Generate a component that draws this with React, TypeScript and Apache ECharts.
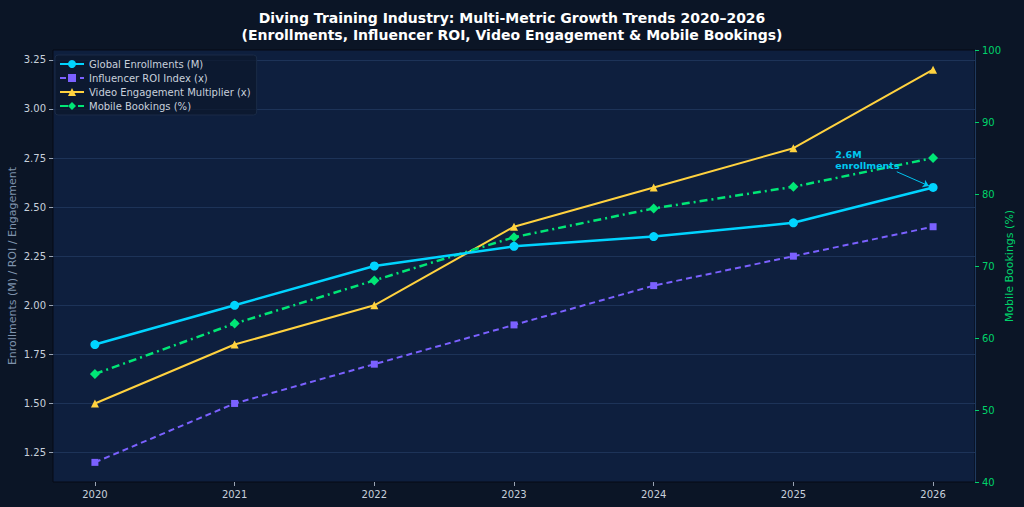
import React, { useEffect, useRef } from "react";
import * as echarts from "echarts";

const years = [2020, 2021, 2022, 2023, 2024, 2025, 2026];
const enrollments = [1.8, 2.0, 2.2, 2.3, 2.35, 2.42, 2.6];
const influencerRoi = [1.2, 1.5, 1.7, 1.9, 2.1, 2.25, 2.4];
const videoEngagement = [1.5, 1.8, 2.0, 2.4, 2.6, 2.8, 3.2];
const mobileBookings = [55, 62, 68, 74, 78, 81, 85];
const leftTicks = [1.25, 1.5, 1.75, 2.0, 2.25, 2.5, 2.75, 3.0, 3.25];

const pairs = (vals: number[]) => years.map((y, i) => [y, vals[i]]);

export default function App() {
  const ref = useRef<HTMLDivElement>(null);
  useEffect(() => {
    document.body.style.margin = "0";
    document.body.style.background = "#0b1526";
    const chart = echarts.init(ref.current!, null, { renderer: "svg" });
    const font = "DejaVu Sans";
    chart.setOption({
      animation: false,
      backgroundColor: "#0b1526",
      textStyle: { fontFamily: font },
      title: {
        text: "Diving Training Industry: Multi-Metric Growth Trends 2020–2026\n(Enrollments, Influencer ROI, Video Engagement & Mobile Bookings)",
        left: "center",
        top: 4,
        textStyle: { color: "#ffffff", fontSize: 14, fontWeight: "bold", lineHeight: 17, fontFamily: font },
      },
      legend: {
        orient: "vertical",
        left: 55,
        top: 55,
        itemGap: 4,
        itemWidth: 24,
        itemHeight: 10,
        padding: [4, 6, 4, 4],
        backgroundColor: "rgba(12,24,44,0.75)",
        borderColor: "#1a2b47",
        borderWidth: 1,
        borderRadius: 3,
        textStyle: { color: "#c8d0dc", fontSize: 10, fontFamily: font },
        data: [
          "Global Enrollments (M)",
          "Influencer ROI Index (x)",
          "Video Engagement Multiplier (x)",
          "Mobile Bookings (%)",
        ],
      },
      grid: {
        left: 53,
        right: 49,
        top: 50,
        bottom: 25,
        containLabel: false,
        outerBoundsMode: "none",
        show: true,
        backgroundColor: "#0e1f3e",
        borderColor: "#060b14",
        borderWidth: 1,
      },
      xAxis: {
        type: "value",
        min: 2019.7,
        max: 2026.3,
        axisLine: { show: false },
        axisTick: { show: true, customValues: years, length: 4, lineStyle: { color: "#9aa4b4" } },
        axisLabel: {
          customValues: years,
          formatter: (v: number) => String(v),
          color: "#c8d0dc",
          fontSize: 10,
          margin: 7,
        },
        splitLine: { show: false },
      },
      yAxis: [
        {
          type: "value",
          min: 1.1,
          max: 3.3,
          name: "Enrollments (M) / ROI / Engagement",
          nameLocation: "middle",
          nameGap: 35,
          nameMoveOverlap: false,
          nameTextStyle: { color: "#7f93ad", fontSize: 11 },
          axisLine: { show: false },
          axisTick: { show: true, customValues: leftTicks, length: 4, lineStyle: { color: "#9aa4b4" } },
          axisLabel: {
            customValues: leftTicks,
            formatter: (v: number) => v.toFixed(2),
            color: "#c8d0dc",
            fontSize: 10,
            margin: 7,
          },
          splitLine: { show: true, lineStyle: { color: "#1d3358", width: 1 } },
        },
        {
          type: "value",
          min: 40,
          max: 100,
          interval: 10,
          position: "right",
          name: "Mobile Bookings (%)",
          nameLocation: "middle",
          nameGap: 29,
          nameMoveOverlap: false,
          nameTextStyle: { color: "#00d26a", fontSize: 11 },
          axisLine: { show: true, lineStyle: { color: "#1e3a5f", width: 1 } },
          axisTick: { show: true, length: 4, lineStyle: { color: "#00d26a" } },
          axisLabel: { color: "#00d26a", fontSize: 10, margin: 7 },
          splitLine: { show: false },
        },
      ],
      series: [
        {
          name: "Global Enrollments (M)",
          type: "line",
          data: pairs(enrollments),
          yAxisIndex: 0,
          symbol: "circle",
          symbolSize: 9,
          itemStyle: { color: "#00d4ff" },
          lineStyle: { color: "#00d4ff", width: 2.5 },
          z: 5,
          markLine: {
            silent: true,
            symbol: ["none", "arrow"],
            symbolSize: 6,
            label: { show: false },
            lineStyle: { color: "#00c4ee", width: 1, type: "solid" },
            data: [[{ coord: [2025.74, 2.68] }, { coord: [2025.97, 2.608] }]],
          },
          markPoint: {
            silent: true,
            symbol: "circle",
            symbolSize: 0,
            data: [{ coord: [2025.3, 2.795] }],
            label: {
              show: true,
              formatter: "2.6M\nenrollments",
              position: [0, 0],
              align: "left",
              verticalAlign: "top",
              color: "#00c8f0",
              fontSize: 9.5,
              fontWeight: "bold",
              lineHeight: 11,
            },
          },
        },
        {
          name: "Influencer ROI Index (x)",
          type: "line",
          data: pairs(influencerRoi),
          yAxisIndex: 0,
          symbol: "rect",
          symbolSize: 7,
          itemStyle: { color: "#7b61ff" },
          lineStyle: { color: "#7b61ff", width: 2, type: [6, 4] },
          z: 4,
        },
        {
          name: "Video Engagement Multiplier (x)",
          type: "line",
          data: pairs(videoEngagement),
          yAxisIndex: 0,
          symbol: "triangle",
          symbolSize: 8,
          itemStyle: { color: "#ffd23f" },
          lineStyle: { color: "#ffd23f", width: 2 },
          z: 4,
        },
        {
          name: "Mobile Bookings (%)",
          type: "line",
          data: pairs(mobileBookings),
          yAxisIndex: 1,
          symbol: "diamond",
          symbolSize: 10,
          itemStyle: { color: "#00e676" },
          lineStyle: { color: "#00e676", width: 2.5, type: [8, 4, 2, 4] },
          z: 4,
        },
      ],
    });
    return () => chart.dispose();
  }, []);
  return <div ref={ref} style={{ width: 1024, height: 507 }} />;
}
